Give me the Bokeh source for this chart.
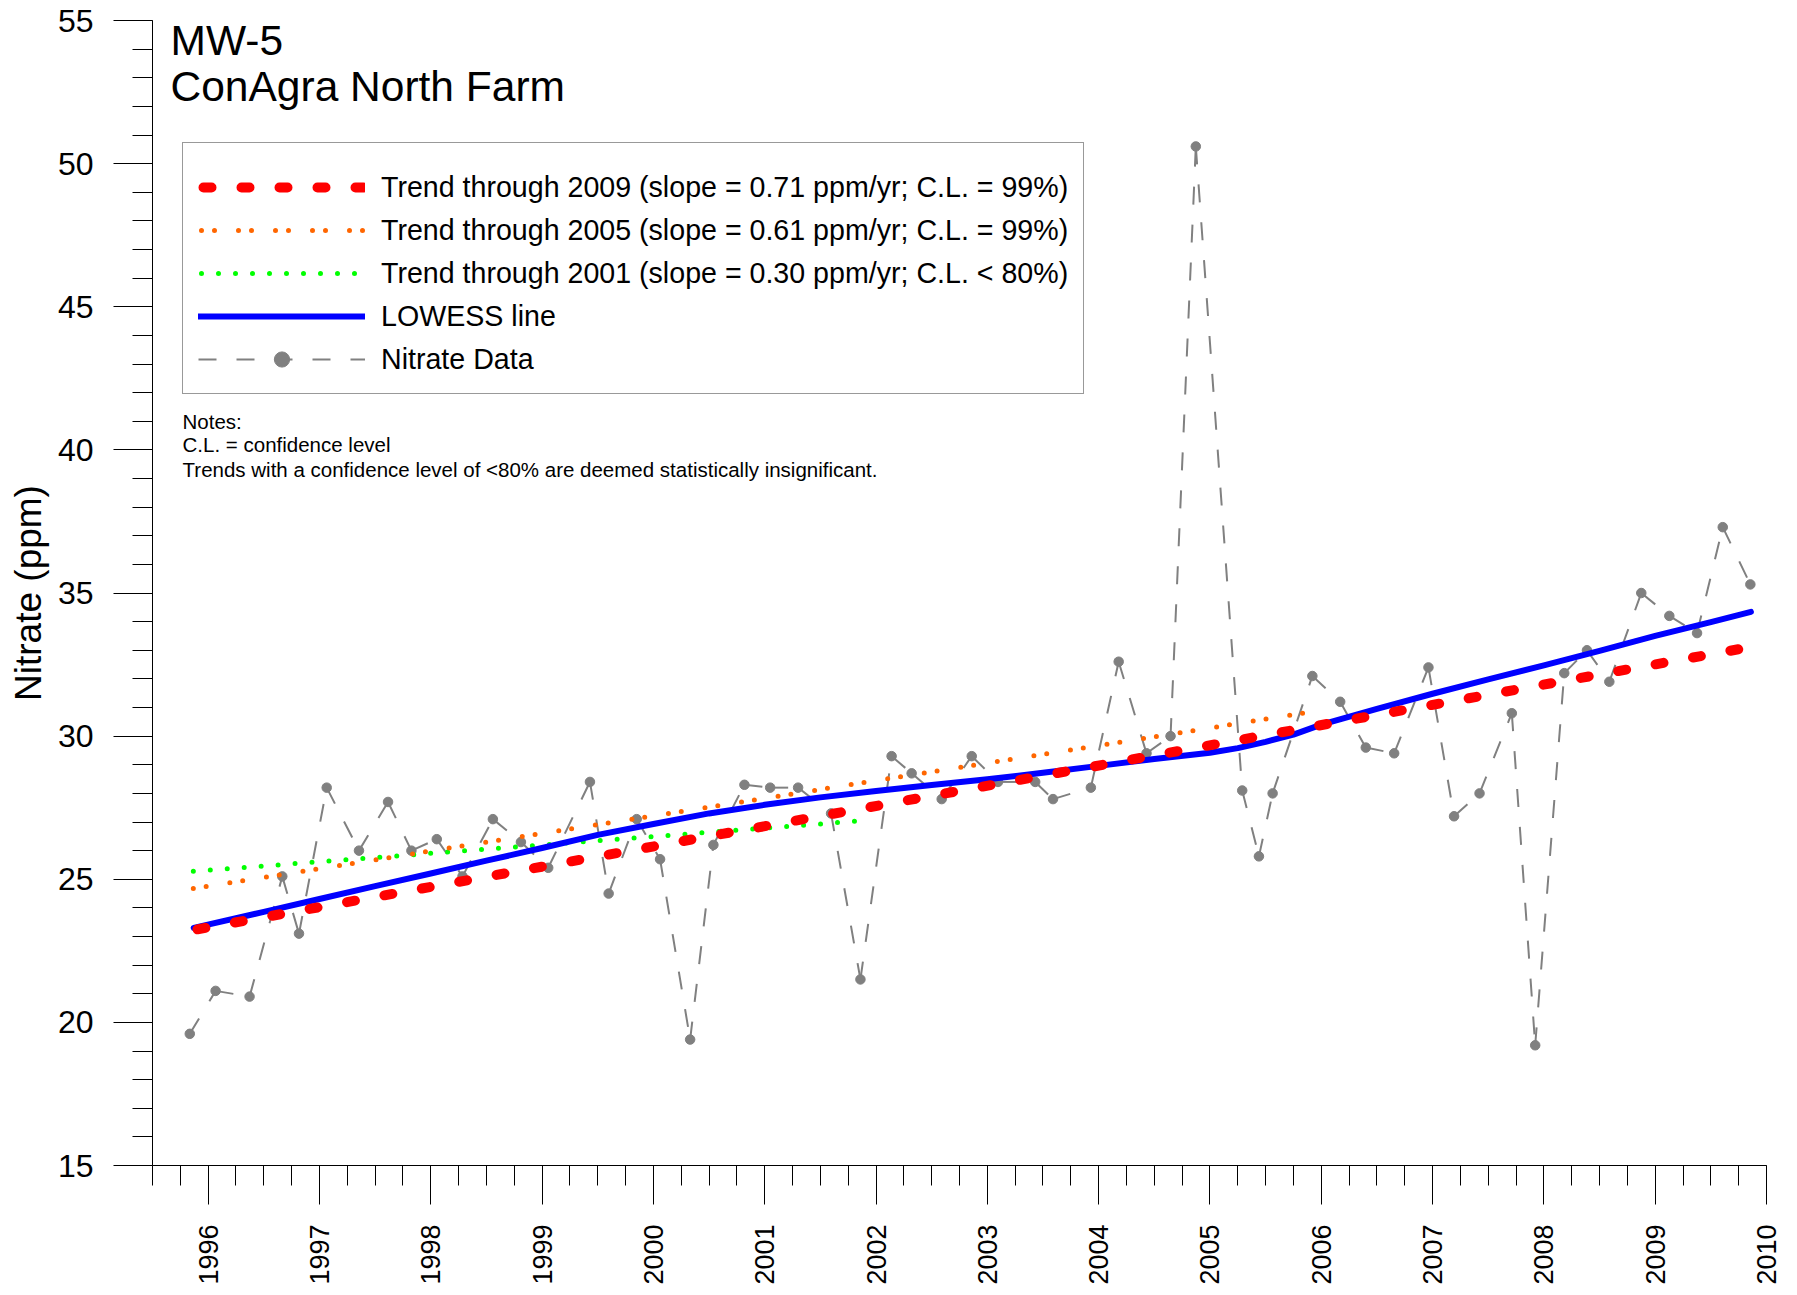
import numpy as np
from bokeh.plotting import figure
from bokeh.models import Range1d, FixedTicker, Legend, LegendItem, Label
from bokeh.embed import file_html
from bokeh.resources import INLINE

# ---------------- data ----------------
sample_dates = [1995.835, 1996.067, 1996.372, 1996.666, 1996.816, 1997.065, 1997.355, 1997.616,
                1997.826, 1998.054, 1998.285, 1998.558, 1998.810, 1999.055, 1999.430, 1999.598,
                1999.850, 2000.060, 2000.330, 2000.539, 2000.818, 2001.049, 2001.300, 2001.596,
                2001.860, 2002.140, 2002.320, 2002.590, 2002.860, 2003.096, 2003.430, 2003.590,
                2003.930, 2004.180, 2004.430, 2004.646, 2004.873, 2005.290, 2005.440, 2005.563,
                2005.920, 2006.170, 2006.400, 2006.655, 2006.963, 2007.193, 2007.422, 2007.712,
                2007.922, 2008.183, 2008.387, 2008.588, 2008.875, 2009.127, 2009.376, 2009.607,
                2009.855]
nitrate_ppm = [19.6, 21.1, 20.9, 25.1, 23.1, 28.2, 26.0, 27.7,
               26.0, 26.4, 25.1, 27.1, 26.3, 25.4, 28.4, 24.5,
               27.1, 25.7, 19.4, 26.2, 28.3, 28.2, 28.2, 27.3,
               21.5, 29.3, 28.7, 27.8, 29.3, 28.4, 28.4, 27.8,
               28.2, 32.6, 29.4, 30.0, 50.6, 28.1, 25.8, 28.0,
               32.1, 31.2, 29.6, 29.4, 32.4, 27.2, 28.0, 30.8,
               19.2, 32.2, 33.0, 31.9, 35.0, 34.2, 33.6, 37.3,
               35.3]

lowess_years = [1995.87, 1996.5, 1997.0, 1997.5, 1998.0, 1998.5, 1999.0, 1999.5, 2000.0,
                2000.5, 2001.0, 2001.5, 2002.0, 2002.5, 2003.0, 2003.5, 2004.0, 2004.5,
                2005.0, 2005.25, 2005.5, 2005.75, 2006.0, 2006.5, 2007.0, 2007.5, 2008.0,
                2008.5, 2009.0, 2009.5, 2009.86]
lowess_ppm = [23.30, 23.86, 24.31, 24.76, 25.20, 25.65, 26.09, 26.55, 26.93,
              27.30, 27.60, 27.86, 28.08, 28.29, 28.49, 28.72, 28.96, 29.20,
              29.42, 29.58, 29.80, 30.05, 30.40, 30.95, 31.48, 31.98, 32.47,
              32.98, 33.50, 33.98, 34.34]

trend2009_years = [1995.86, 2009.84]
trend2009_ppm = [23.22, 33.10]
trend2005_years = [1995.84, 2005.87]
trend2005_ppm = [24.66, 30.82]
trend2001_years = [1995.84, 2001.83]
trend2001_ppm = [25.27, 27.03]

year_ticks = list(range(1996, 2011))
ppm_ticks = [15, 20, 25, 30, 35, 40, 45, 50, 55]

title_lines = ["MW-5", "ConAgra North Farm"]
note_lines = ["Notes:",
              "C.L. = confidence level",
              "Trends with a confidence level of <80% are deemed statistically insignificant."]
legend_labels = ["Trend through 2009 (slope = 0.71 ppm/yr; C.L. = 99%)",
                 "Trend through 2005 (slope = 0.61 ppm/yr; C.L. = 99%)",
                 "Trend through 2001 (slope = 0.30 ppm/yr; C.L. < 80%)",
                 "LOWESS line",
                 "Nitrate Data"]

# ---------------- figure ----------------
FONT = "Liberation Sans"
p = figure(width=1781, height=1287, output_backend="svg", toolbar_location=None,
           x_range=Range1d(1995.5, 2010), y_range=Range1d(15, 55),
           min_border_left=152, min_border_right=15, min_border_top=20, min_border_bottom=116)
p.outline_line_color = None
p.grid.visible = False
p.background_fill_color = "white"
p.border_fill_color = "white"

GRAY = "#808080"
seg = p.segment(x0=sample_dates[:-1], y0=nitrate_ppm[:-1], x1=sample_dates[1:], y1=nitrate_ppm[1:],
                line_color=GRAY, line_width=2, line_dash="18 20")
pts = p.scatter(sample_dates, nitrate_ppm, marker="circle", size=9.5,
                fill_color=GRAY, line_color=GRAY)
green = p.line(trend2001_years, trend2001_ppm, line_color="#00FF00", line_width=5,
               line_dash="0 17", line_dash_offset=-3, line_cap="round")
orange = p.line(trend2005_years, trend2005_ppm, line_color="#FF6600", line_width=5,
                line_dash="0 13 0 24", line_dash_offset=-3, line_cap="round")
blue = p.line(lowess_years, lowess_ppm, line_color="#0000FF", line_width=6,
              line_cap="round", line_join="round")
red = p.line(trend2009_years, trend2009_ppm, line_color="#FF0000", line_width=10,
             line_dash="8 30", line_dash_offset=-5, line_cap="round")

# axes
for ax in (p.xaxis[0], p.yaxis[0]):
    ax.axis_line_color = "black"
    ax.major_tick_line_color = "black"
    ax.minor_tick_line_color = "black"
    ax.major_tick_out = 39
    ax.major_tick_in = 0
    ax.minor_tick_out = 20
    ax.minor_tick_in = 0
    ax.major_label_text_font = FONT
    ax.major_label_text_color = "black"
    ax.major_label_standoff = 20

p.xaxis.ticker = FixedTicker(ticks=year_ticks,
                             minor_ticks=list(np.arange(1995.5, 2010.01, 0.25)))
p.xaxis.major_label_orientation = np.pi / 2
p.xaxis.major_label_text_font_size = "27px"

p.yaxis.ticker = FixedTicker(ticks=ppm_ticks, minor_ticks=list(range(15, 56)))
p.yaxis.major_label_text_font_size = "32px"
p.yaxis.axis_label = "Nitrate (ppm)"
p.yaxis.axis_label_text_font = FONT
p.yaxis.axis_label_text_font_size = "37px"
p.yaxis.axis_label_text_font_style = "normal"
p.yaxis.axis_label_text_color = "black"
p.yaxis.axis_label_standoff = 6

# titles
p.add_layout(Label(x=1995.662, y=54.30, text=title_lines[0], text_font=FONT,
                   text_font_size="42.5px", text_baseline="alphabetic", text_color="black"))
p.add_layout(Label(x=1995.662, y=52.71, text=title_lines[1], text_font=FONT,
                   text_font_size="42.5px", text_baseline="alphabetic", text_color="black"))

# notes
for txt, yy in zip(note_lines, [41.00, 40.18, 39.31]):
    p.add_layout(Label(x=1995.77, y=yy, text=txt, text_font=FONT, text_font_size="20.5px",
                       text_baseline="alphabetic", text_color="black"))

# legend
legend = Legend(items=[LegendItem(label=legend_labels[0], renderers=[red]),
                       LegendItem(label=legend_labels[1], renderers=[orange]),
                       LegendItem(label=legend_labels[2], renderers=[green]),
                       LegendItem(label=legend_labels[3], renderers=[blue]),
                       LegendItem(label=legend_labels[4], renderers=[seg, pts])],
                location=(30, 771), orientation="vertical", padding=15, spacing=5, margin=0,
                glyph_width=167, glyph_height=38, label_height=38, label_standoff=16,
                label_text_font=FONT, label_text_font_size="28.6px", label_text_color="black",
                border_line_color="#333333", border_line_width=1,
                background_fill_color="white", background_fill_alpha=1.0,
                title=" ", title_text_font_size="4px", title_standoff=5)
p.add_layout(legend)

open("out.html", "w").write(file_html(p, INLINE))
